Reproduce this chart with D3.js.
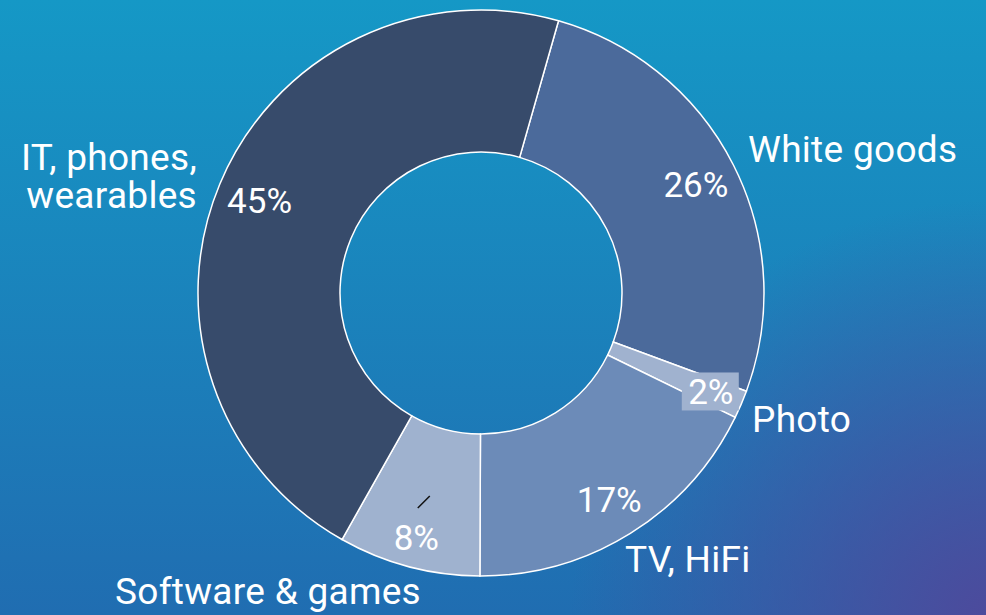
<!DOCTYPE html>
<html>
<head>
<meta charset="utf-8">
<script src="https://cdn.jsdelivr.net/npm/d3@7.9.0/dist/d3.min.js"></script>
<style>
  html, body { margin: 0; padding: 0; background: #1790c3; }
  svg { display: block; }
  text { font-family: Roboto, "Open Sans", sans-serif; fill: #fff; }
</style>
</head>
<body>
<svg id="chart" width="986" height="615"></svg>
<script>
// data (slice order goes clockwise from White goods)
const categories = ['White goods', 'Photo', 'TV, HiFi', 'Software & games', 'IT, phones, wearables'];
const shares = [26.2, 1.6, 17.8, 8.1, 46.2];
const shareLabels = ['26%', '2%', '17%', '8%', '45%'];
const colors = ['#4b6a9b', '#a0b2cf', '#6c8bb8', '#9fb2cf', '#374b6b'];

const width = 986, height = 615;
const cx = 481, cy = 293;
const outerR = 283, innerR = 141;
const pctRadius = [241, 250, 243, 253, 240];

const svg = d3.select('#chart');
const defs = svg.append('defs');

// background: blue top to bottom, purple glow in the lower right corner
const lin = defs.append('linearGradient').attr('id', 'bg').attr('x1', 0).attr('y1', 0).attr('x2', 0).attr('y2', 1);
lin.append('stop').attr('offset', '0%').attr('stop-color', '#1598c6');
lin.append('stop').attr('offset', '100%').attr('stop-color', '#206db1');
const rad = defs.append('radialGradient').attr('id', 'glow')
  .attr('gradientUnits', 'userSpaceOnUse').attr('cx', 990).attr('cy', 620).attr('r', 420);
rad.append('stop').attr('offset', '0%').attr('stop-color', '#4d4a9c').attr('stop-opacity', 1);
rad.append('stop').attr('offset', '100%').attr('stop-color', '#4d4a9c').attr('stop-opacity', 0);

svg.append('rect').attr('width', width).attr('height', height).attr('fill', 'url(#bg)');
svg.append('rect').attr('width', width).attr('height', height).attr('fill', 'url(#glow)');

// pie
const pie = d3.pie().sort(null).value(d => d)
  .startAngle(15.9 * Math.PI / 180)
  .endAngle(15.9 * Math.PI / 180 + 2 * Math.PI);
const arcData = pie(shares);
const arc = d3.arc().innerRadius(innerR).outerRadius(outerR);

const g = svg.append('g').attr('transform', `translate(${cx},${cy})`);

g.selectAll('path.slice')
  .data(arcData)
  .join('path')
    .attr('class', 'slice')
    .attr('d', arc)
    .attr('fill', (d, i) => colors[i])
    .attr('stroke', '#fff')
    .attr('stroke-width', 1.5);

// leftover leader tick in the software slice
const mid = d3.arc().innerRadius(212).outerRadius(212).centroid(arcData[3]);
g.append('line')
  .attr('x1', mid[0] + 3).attr('y1', mid[1] - 2)
  .attr('x2', mid[0] - 9).attr('y2', mid[1] + 10)
  .attr('stroke', '#111').attr('stroke-width', 1.5);

// percentage labels
const pctG = g.selectAll('g.pct')
  .data(arcData)
  .join('g')
    .attr('class', 'pct')
    .attr('transform', (d, i) => {
      const r = pctRadius[i];
      const c = d3.arc().innerRadius(r).outerRadius(r).centroid(d);
      return `translate(${c[0]},${c[1]})`;
    });

// the small slice gets a light box behind its label
pctG.filter((d, i) => i === 1)
  .append('rect')
    .attr('x', -29).attr('y', -19).attr('width', 57).attr('height', 38)
    .attr('fill', colors[1]);

pctG.append('text')
  .attr('text-anchor', 'middle')
  .attr('dy', '0.36em')
  .style('font-size', '35px')
  .text((d, i) => shareLabels[i]);

// category labels outside the ring
const catPos = [
  { x: 748, y: 162, anchor: 'start' },
  { x: 752, y: 432, anchor: 'start' },
  { x: 625, y: 572, anchor: 'start' },
  { x: 115, y: 604, anchor: 'start' },
  { x: 197, y: 170, anchor: 'end' }
];
const catLines = [['White goods'], ['Photo'], ['TV, HiFi'], ['Software & games'], ['IT, phones,', 'wearables']];

categories.forEach((c, i) => {
  const t = svg.append('text')
    .attr('x', catPos[i].x)
    .attr('y', catPos[i].y)
    .attr('text-anchor', catPos[i].anchor)
    .style('font-size', '37px')
    .style('letter-spacing', '0.3px');
  catLines[i].forEach((line, j) => {
    t.append('tspan')
      .attr('x', catPos[i].x)
      .attr('dy', j === 0 ? 0 : 38)
      .text(line);
  });
});
</script>
</body>
</html>
